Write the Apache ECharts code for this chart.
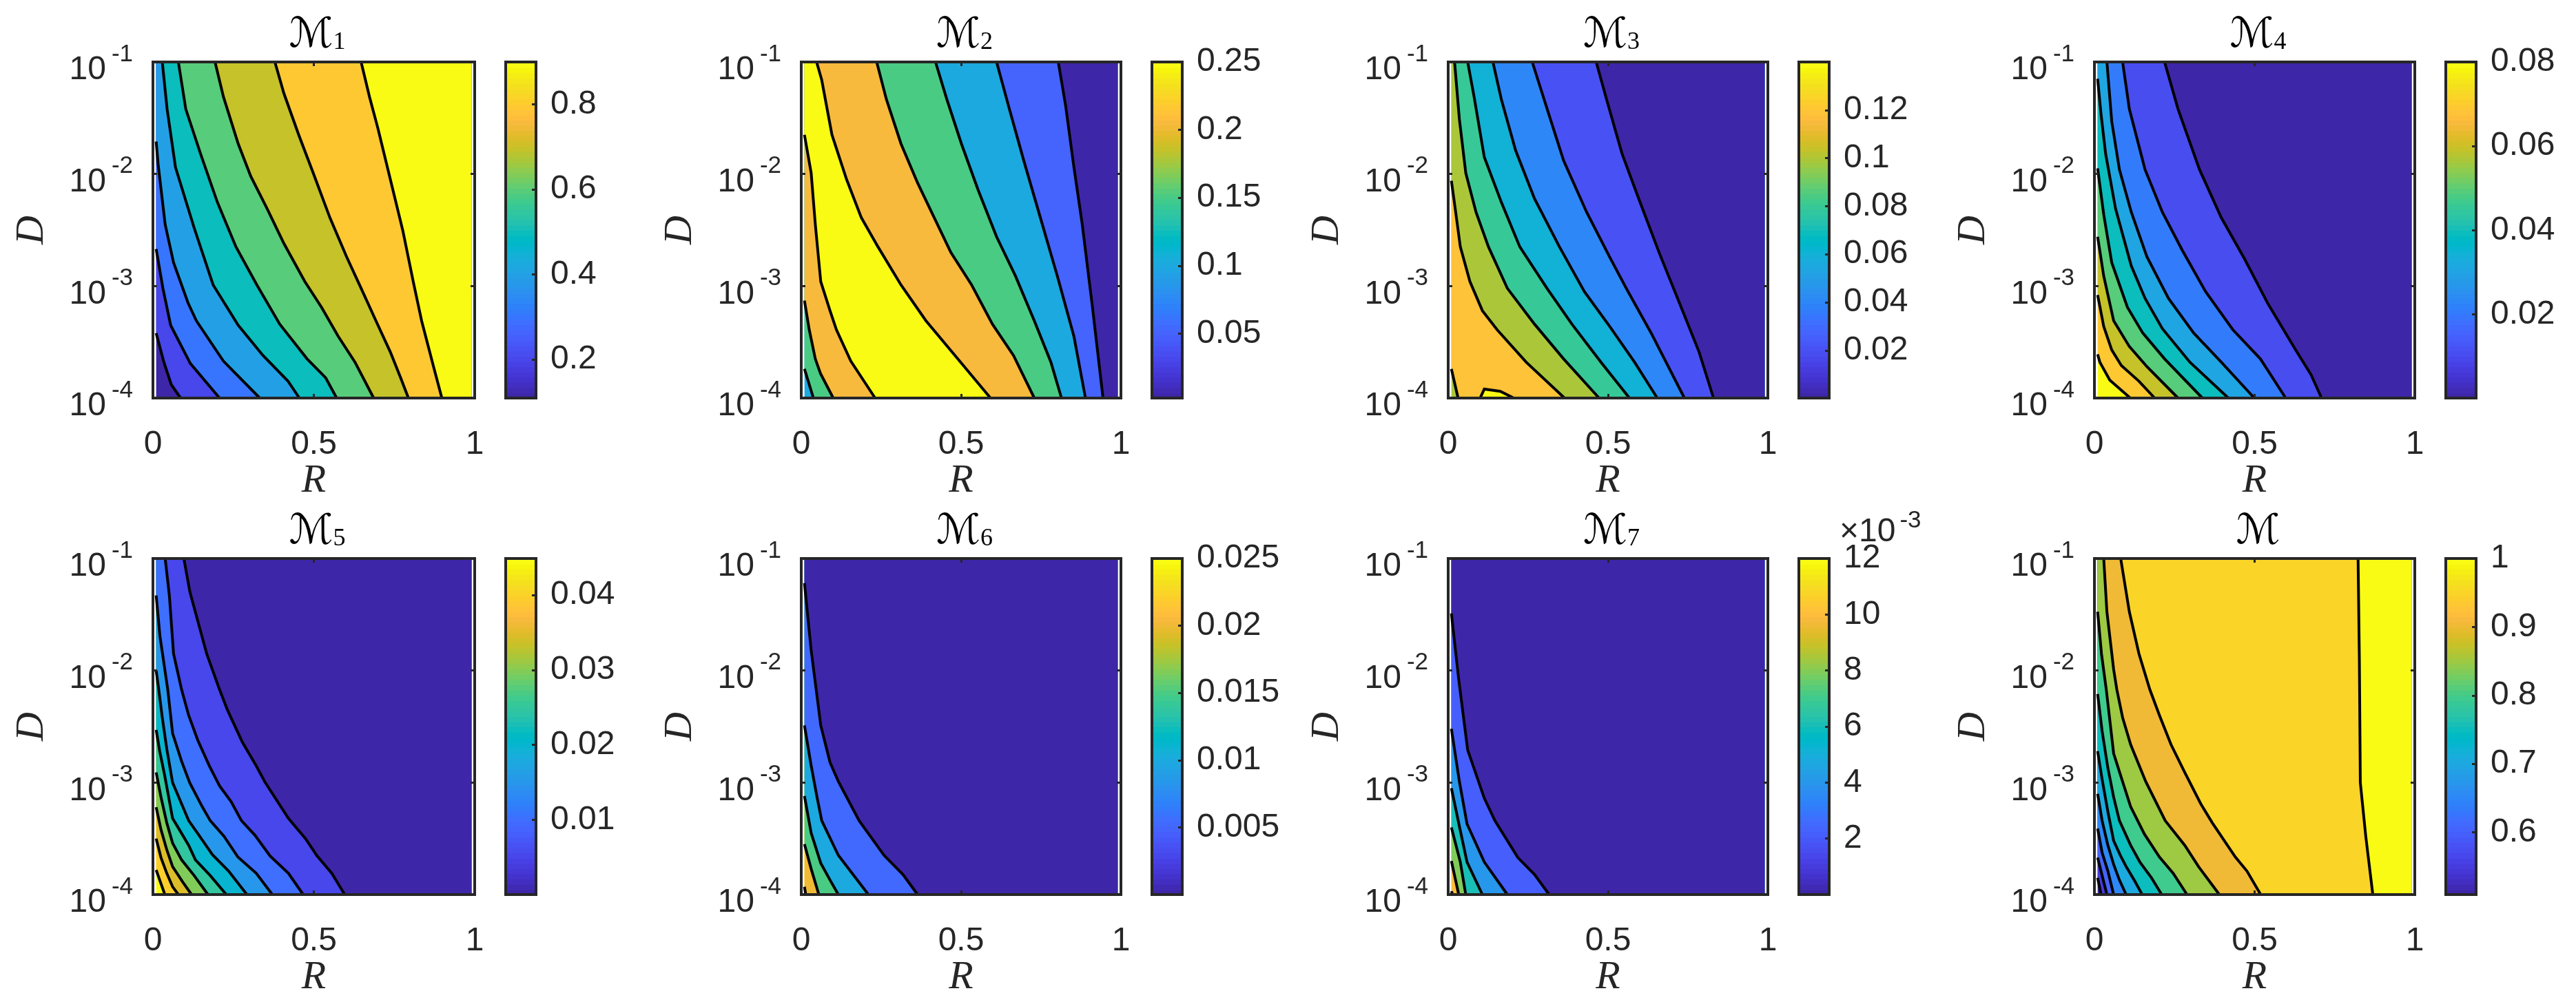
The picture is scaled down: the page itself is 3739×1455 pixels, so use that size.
<!DOCTYPE html>
<html>
<head>
<meta charset="utf-8">
<title>Contour panels</title>
<script src="https://cdn.jsdelivr.net/npm/echarts@6/dist/echarts.min.js"></script>
<style>
  html, body { margin: 0; padding: 0; background: #fff; }
  #chart { width: 3739px; height: 1455px; }
</style>
</head>
<body>
<div id="chart"></div>
<script>
// contours are lists of [R, log10(D)], ordered left to right
const m1Contours = [
  [[.01,-3.42],[.034,-3.68],[.057,-3.88],[.086,-4]],
  [[.01,-2.67],[.031,-3.02],[.055,-3.35],[.116,-3.69],[.207,-4]],
  [[.01,-1.71],[.016,-1.91],[.038,-2.45],[.064,-2.79],[.109,-3.15],[.135,-3.31],[.219,-3.67],[.332,-4]],
  [[.029,-1],[.044,-1.42],[.07,-1.94],[.128,-2.48],[.187,-2.99],[.265,-3.35],[.342,-3.62],[.42,-3.85],[.455,-4]],
  [[.079,-1],[.102,-1.42],[.148,-1.82],[.2,-2.25],[.258,-2.65],[.323,-2.99],[.394,-3.34],[.479,-3.65],[.537,-3.82],[.571,-4]],
  [[.193,-1],[.219,-1.31],[.265,-1.73],[.304,-2.02],[.355,-2.31],[.407,-2.62],[.472,-2.96],[.524,-3.19],[.576,-3.45],[.628,-3.68],[.686,-4]],
  [[.379,-1],[.407,-1.28],[.453,-1.65],[.498,-1.99],[.55,-2.39],[.602,-2.74],[.647,-3.02],[.693,-3.31],[.738,-3.59],[.77,-3.82],[.794,-4]],
  [[.647,-1],[.673,-1.31],[.699,-1.59],[.738,-2.05],[.777,-2.51],[.809,-2.96],[.835,-3.31],[.874,-3.74],[.898,-4]]
]
const m2Contours = [
  [[.01,-3.74],[.038,-4]],
  [[.01,-3.13],[.025,-3.39],[.044,-3.65],[.06,-3.78],[.1,-4]],
  [[.01,-1.65],[.031,-1.99],[.044,-2.45],[.061,-2.96],[.09,-3.22],[.11,-3.39],[.155,-3.67],[.231,-4]],
  [[.048,-1],[.064,-1.16],[.096,-1.65],[.142,-2.05],[.188,-2.39],[.24,-2.65],[.312,-2.99],[.39,-3.31],[.481,-3.62],[.592,-4]],
  [[.236,-1],[.266,-1.33],[.312,-1.73],[.364,-2.08],[.416,-2.39],[.468,-2.7],[.533,-2.99],[.598,-3.34],[.664,-3.62],[.729,-4]],
  [[.42,-1],[.455,-1.33],[.501,-1.73],[.553,-2.14],[.611,-2.56],[.67,-2.91],[.729,-3.31],[.781,-3.68],[.814,-4]],
  [[.611,-1],[.651,-1.42],[.696,-1.88],[.748,-2.39],[.801,-2.91],[.853,-3.45],[.889,-4]],
  [[.804,-1],[.827,-1.39],[.853,-1.94],[.879,-2.45],[.911,-3.19],[.944,-4]]
]
const m3Contours = [
  [[.01,-3.74],[.031,-4]],
  [[.01,-2.06],[.022,-2.31],[.038,-2.65],[.068,-2.96],[.107,-3.22],[.153,-3.39],[.244,-3.68],[.364,-4]],
  [[.02,-1],[.035,-1.51],[.055,-1.99],[.087,-2.34],[.126,-2.65],[.185,-3.02],[.27,-3.34],[.361,-3.65],[.472,-4]],
  [[.061,-1],[.081,-1.31],[.113,-1.85],[.166,-2.25],[.224,-2.65],[.309,-3.02],[.387,-3.34],[.478,-3.68],[.567,-4]],
  [[.14,-1],[.166,-1.33],[.211,-1.79],[.27,-2.22],[.348,-2.65],[.426,-3.05],[.505,-3.36],[.583,-3.68],[.654,-4]],
  [[.263,-1],[.303,-1.36],[.361,-1.88],[.433,-2.34],[.505,-2.74],[.557,-3.02],[.635,-3.42],[.739,-4]],
  [[.463,-1],[.498,-1.36],[.544,-1.82],[.596,-2.22],[.661,-2.71],[.733,-3.22],[.785,-3.59],[.83,-4]]
]
const m3Island = [[.1,-4],[.113,-3.92],[.163,-3.94],[.205,-4]]
const m4Contours = [
  [[.01,-3.61],[.017,-3.68],[.048,-3.84],[.112,-4]],
  [[.01,-3.08],[.029,-3.36],[.054,-3.57],[.084,-3.71],[.139,-3.85],[.188,-4]],
  [[.01,-2.56],[.029,-2.91],[.06,-3.31],[.109,-3.54],[.164,-3.72],[.261,-4]],
  [[.01,-1.95],[.029,-2.36],[.054,-2.79],[.103,-3.19],[.151,-3.42],[.219,-3.65],[.337,-4]],
  [[.01,-1.15],[.02,-1.45],[.035,-1.82],[.066,-2.31],[.115,-2.82],[.158,-3.11],[.212,-3.38],[.298,-3.68],[.418,-4]],
  [[.039,-1],[.054,-1.53],[.078,-1.96],[.115,-2.34],[.164,-2.74],[.231,-3.11],[.31,-3.42],[.396,-3.68],[.499,-4]],
  [[.088,-1],[.109,-1.42],[.158,-1.96],[.212,-2.34],[.274,-2.68],[.347,-3.05],[.432,-3.39],[.518,-3.65],[.597,-4]],
  [[.219,-1],[.261,-1.42],[.328,-1.96],[.396,-2.39],[.469,-2.76],[.542,-3.16],[.628,-3.57],[.676,-3.79],[.709,-4]]
]
const m5Contours = [
  [[.01,-3.78],[.021,-3.87],[.037,-4]],
  [[.01,-3.5],[.025,-3.67],[.043,-3.81],[.061,-3.93],[.079,-4]],
  [[.01,-3.22],[.025,-3.42],[.043,-3.6],[.061,-3.75],[.093,-3.89],[.12,-4]],
  [[.01,-2.91],[.025,-3.13],[.043,-3.36],[.061,-3.54],[.089,-3.69],[.128,-3.83],[.171,-4]],
  [[.01,-2.53],[.021,-2.72],[.036,-2.93],[.061,-3.32],[.082,-3.42],[.111,-3.56],[.132,-3.69],[.178,-3.83],[.228,-4]],
  [[.01,-2],[.018,-2.17],[.029,-2.42],[.043,-2.7],[.061,-3],[.086,-3.17],[.111,-3.34],[.143,-3.47],[.185,-3.645],[.235,-3.79],[.292,-4]],
  [[.01,-1.33],[.022,-1.7],[.046,-2.17],[.061,-2.56],[.089,-2.81],[.114,-3],[.153,-3.215],[.178,-3.34],[.221,-3.48],[.264,-3.665],[.321,-3.81],[.371,-4]],
  [[.038,-1],[.051,-1.33],[.064,-1.85],[.089,-2.17],[.111,-2.4],[.139,-2.62],[.175,-2.85],[.207,-3.03],[.243,-3.17],[.275,-3.34],[.317,-3.47],[.364,-3.655],[.421,-3.81],[.467,-4]],
  [[.096,-1],[.115,-1.3],[.167,-1.85],[.207,-2.17],[.232,-2.355],[.278,-2.64],[.321,-2.85],[.349,-3],[.421,-3.32],[.474,-3.5],[.51,-3.655],[.556,-3.81],[.596,-4]]
]
const m6Contours = [
  [[.01,-3.93],[.014,-4]],
  [[.01,-3.55],[.031,-3.77],[.055,-4]],
  [[.01,-3.12],[.031,-3.45],[.061,-3.72],[.09,-3.87],[.116,-4]],
  [[.01,-2.49],[.031,-2.85],[.05,-3.14],[.064,-3.34],[.116,-3.65],[.21,-4]],
  [[.01,-1.22],[.031,-1.82],[.061,-2.49],[.09,-2.82],[.116,-2.99],[.181,-3.34],[.259,-3.65],[.318,-3.82],[.364,-4]]
]
const m7Contours = [
  [[.01,-3.97],[.014,-4]],
  [[.01,-3.7],[.033,-4]],
  [[.01,-3.4],[.038,-3.71],[.055,-4]],
  [[.01,-3.05],[.035,-3.39],[.059,-3.71],[.107,-4]],
  [[.01,-2.52],[.035,-2.99],[.059,-3.37],[.113,-3.71],[.185,-4]],
  [[.01,-1.49],[.033,-2.08],[.061,-2.71],[.113,-3.14],[.146,-3.34],[.218,-3.67],[.27,-3.82],[.316,-4]]
]
const m8Contours = [
  [[.01,-3.85],[.021,-4]],
  [[.01,-3.67],[.024,-3.83],[.039,-4]],
  [[.01,-3.41],[.024,-3.625],[.042,-3.79],[.06,-4]],
  [[.01,-3.1],[.024,-3.34],[.042,-3.56],[.06,-3.73],[.078,-3.87],[.099,-4]],
  [[.01,-2.72],[.024,-2.97],[.042,-3.26],[.06,-3.52],[.081,-3.65],[.099,-3.75],[.124,-3.87],[.149,-4]],
  [[.01,-2.21],[.024,-2.54],[.042,-2.87],[.06,-3.13],[.078,-3.34],[.113,-3.56],[.142,-3.71],[.178,-3.85],[.21,-4]],
  [[.01,-1.475],[.022,-1.85],[.037,-2.17],[.06,-2.74],[.081,-2.93],[.113,-3.215],[.156,-3.46],[.203,-3.665],[.246,-3.81],[.289,-4]],
  [[.029,-1],[.039,-1.475],[.06,-1.99],[.07,-2.17],[.088,-2.42],[.113,-2.66],[.16,-2.99],[.221,-3.34],[.282,-3.56],[.325,-3.75],[.39,-4]],
  [[.082,-1],[.109,-1.475],[.139,-1.85],[.173,-2.17],[.203,-2.4],[.239,-2.66],[.282,-2.91],[.332,-3.19],[.368,-3.36],[.44,-3.665],[.476,-3.79],[.519,-4]],
  [[.823,-1],[.827,-1.9],[.83,-3],[.847,-3.48],[.869,-4]]
]

// value of each filled band, left to right (one more than the contours)
const m1Bands = [.11, .2, .3, .4, .5, .6, .7, .8, .9]
const m2Bands = [.1, .15, .205, .25, .205, .15, .1, .05, .0026]
const m3Bands = [.1, .12, .1, .08, .06, .04, .02, .0002]
const m4Bands = [.08, .07, .06, .05, .04, .03, .02, .01, .0001]
const m5Bands = [.0449, .04, .035, .03, .025, .02, .015, .01, .005, 0]
const m6Bands = [.025, .0203, .015, .01, .005, 0]
const m7Bands = [12, 10, 8, 6, 4, 2, 0]
const m8Bands = [.509, .55, .6, .65, .7, .75, .8, .85, .905, .95, 1]

// colorbar ranges and ticks
const m1Range = [.109, .9]
const m2Range = [.0026, .25]
const m3Range = [.0002, .14]
const m4Range = [.0001, .08]
const m5Range = [0, .0449]
const m6Range = [0, .025]
const m7Range = [0, 12]
const m8Range = [.509, 1]
const m1Ticks = [.2, .4, .6, .8]
const m2Ticks = [.05, .1, .15, .2, .25]
const m3Ticks = [.02, .04, .06, .08, .1, .12]
const m4Ticks = [.02, .04, .06, .08]
const m5Ticks = [.01, .02, .03, .04]
const m6Ticks = [.005, .01, .015, .02, .025]
const m7Ticks = [2, 4, 6, 8, 10, 12]
const m8Ticks = [.6, .7, .8, .9, 1]

const titleSubs = ['1', '2', '3', '4', '5', '6', '7', '']
const parula = [
  [.2422,.1504,.6603],[.2504,.165,.7076],[.2578,.1818,.7511],[.2647,.1978,.7952],[.2706,.2147,.8364],[.2751,.2342,.871],[.2783,.2559,.8991],[.2803,.2782,.9221],
  [.2813,.3006,.9414],[.281,.3228,.9579],[.2795,.3447,.9717],[.276,.3667,.9829],[.2699,.3892,.9906],[.2602,.4123,.9952],[.244,.4358,.9988],[.2206,.4603,.9973],
  [.1963,.4847,.9892],[.1834,.5074,.9798],[.1786,.5289,.9682],[.1764,.5499,.952],[.1687,.5703,.9359],[.154,.5902,.9218],[.146,.6091,.9079],[.138,.6276,.8973],
  [.1248,.6459,.8883],[.1113,.6635,.8763],[.0952,.6798,.8598],[.0689,.6948,.8394],[.0297,.7082,.8163],[.0036,.7203,.7917],[.0067,.7312,.766],[.0433,.7411,.7394],
  [.0964,.75,.712],[.1408,.7584,.6842],[.1717,.767,.6554],[.1938,.7758,.6251],[.2161,.7843,.5923],[.247,.7918,.5567],[.2906,.7973,.5188],[.3406,.8008,.4789],
  [.3909,.8029,.4354],[.4456,.8024,.3909],[.5044,.7993,.348],[.5616,.7942,.3045],[.6174,.7876,.2612],[.672,.7793,.2227],[.7242,.7698,.191],[.7738,.7598,.1646],
  [.8203,.7498,.1535],[.8634,.7406,.1596],[.9035,.733,.1774],[.9393,.7288,.21],[.9728,.7298,.2394],[.9956,.7434,.2371],[.997,.7659,.2199],[.9952,.7861,.199],
  [.9892,.8086,.1706],[.9786,.8307,.1521],[.9676,.853,.1387],[.961,.8779,.1152],[.9597,.9035,.1001],[.9628,.9296,.08],[.9689,.955,.056],[.9769,.9839,.0805]
]

const panels = [
  { contours: m1Contours, bands: m1Bands, range: m1Range, ticks: m1Ticks },
  { contours: m2Contours, bands: m2Bands, range: m2Range, ticks: m2Ticks },
  { contours: m3Contours, bands: m3Bands, range: m3Range, ticks: m3Ticks, island: m3Island, islandValue: .14 },
  { contours: m4Contours, bands: m4Bands, range: m4Range, ticks: m4Ticks },
  { contours: m5Contours, bands: m5Bands, range: m5Range, ticks: m5Ticks },
  { contours: m6Contours, bands: m6Bands, range: m6Range, ticks: m6Ticks },
  { contours: m7Contours, bands: m7Bands, range: m7Range, ticks: m7Ticks },
  { contours: m8Contours, bands: m8Bands, range: m8Range, ticks: m8Ticks }
]

// layout
const plotLefts = [222, 1163, 2102, 3040]
const plotWidths = [467, 464, 464, 465]
const barLefts = [734, 1672, 2611, 3550]
const barWidth = 44
const rowTops = [90, 811]
const plotHeight = 488
const ink = '#262626'
const sansFont = '"Liberation Sans", Arial, sans-serif'
const serifFont = '"Liberation Serif", serif'
const tickFont = 48

const rMin = .01, rMax = .99, eTop = -1, eBottom = -4

function toHex(rgb) {
  return '#' + rgb.map(v => Math.round(v * 255).toString(16).padStart(2, '0')).join('')
}

function colorOf(value, range) {
  let t = (value - range[0]) / (range[1] - range[0])
  let i = Math.round(Math.min(Math.max(t, 0), 1) * (parula.length - 1))
  return toHex(parula[i])
}

function frameAxis(extra) {
  return Object.assign({
    type: 'value',
    z: 10,
    silent: true,
    splitLine: { show: false },
    axisLine: { show: true, onZero: false, lineStyle: { color: ink, width: 4, cap: 'square' } },
    axisTick: { show: false },
    axisLabel: { show: false }
  }, extra)
}

const plotTick = { show: true, inside: true, length: 6, lineStyle: { color: ink, width: 3 } }

const grid = [], xAxis = [], yAxis = [], series = [], title = []

panels.forEach((p, n) => {
  let col = n % 4
  let top = rowTops[Math.floor(n / 4)]
  let left = plotLefts[col]
  let width = plotWidths[col]

  // contour plot
  let g = grid.length
  grid.push({ left: left, top: top, width: width, height: plotHeight })
  let xBottom = xAxis.length
  xAxis.push(frameAxis({
    gridIndex: g, position: 'bottom', min: 0, max: 1, interval: .5,
    axisTick: plotTick,
    axisLabel: {
      show: true, color: ink, fontFamily: sansFont, fontSize: tickFont, margin: 44,
      formatter: v => String(v)
    },
    name: 'R', nameLocation: 'middle', nameGap: 92, nameMoveOverlap: false,
    nameTextStyle: { color: ink, fontFamily: serifFont, fontStyle: 'italic', fontSize: 58 }
  }))
  xAxis.push(frameAxis({ gridIndex: g, position: 'top', min: 0, max: 1, interval: .5, axisTick: plotTick }))
  let yLeft = yAxis.length
  yAxis.push(frameAxis({
    type: 'log', logBase: 10, gridIndex: g, position: 'left', min: 1e-4, max: 1e-1,
    axisTick: plotTick,
    axisLabel: {
      show: true, margin: 29, fontSize: tickFont,
      formatter: v => '{base|10}{sup|' + Math.round(Math.log10(v)) + '}',
      rich: {
        base: { color: ink, fontFamily: sansFont, fontSize: tickFont, padding: [24, 0, 0, 0] },
        sup: { color: ink, fontFamily: sansFont, fontSize: 35, padding: [0, 0, 22, 8] }
      }
    },
    name: 'D', nameLocation: 'middle', nameGap: 146, nameMoveOverlap: false,
    nameTextStyle: { color: ink, fontFamily: serifFont, fontStyle: 'italic', fontSize: 58 }
  }))
  yAxis.push(frameAxis({ type: 'log', logBase: 10, gridIndex: g, position: 'right', min: 1e-4, max: 1e-1, axisTick: plotTick }))

  // painted left to right: every contour fills everything on its right
  let layers = [{ fill: p.bands[0] }]
  p.contours.forEach((c, i) => layers.push({ line: c, fill: p.bands[i + 1] }))
  if (p.island) layers.push({ line: p.island, fill: p.islandValue, closed: true })

  series.push({
    type: 'custom',
    coordinateSystem: 'cartesian2d',
    xAxisIndex: xBottom,
    yAxisIndex: yLeft,
    silent: true,
    animation: false,
    clip: false,
    z: 2,
    data: layers.map((_, i) => [.5, .01, i]),
    renderItem: (params, api) => {
      let layer = layers[params.dataIndex]
      let pt = (r, e) => api.coord([r, Math.pow(10, e)])
      let color = colorOf(layer.fill, p.range)
      if (!layer.line) {
        return {
          type: 'polygon',
          shape: { points: [pt(rMin, eTop), pt(rMax, eTop), pt(rMax, eBottom), pt(rMin, eBottom)] },
          style: { fill: color }
        }
      }
      let path = layer.line.map(q => pt(q[0], q[1]))
      let outline = path.slice()
      if (!layer.closed) {
        outline.push(pt(rMax, eBottom), pt(rMax, eTop))
        if (layer.line[0][1] < eTop) outline.push(pt(rMin, eTop))
      }
      return {
        type: 'group',
        children: [
          { type: 'polygon', shape: { points: outline }, style: { fill: color } },
          { type: 'polyline', shape: { points: path }, style: { fill: null, stroke: '#000', lineWidth: 4 } }
        ]
      }
    }
  })

  // colorbar
  let b = grid.length
  grid.push({ left: barLefts[col], top: top, width: barWidth, height: plotHeight })
  let barX = xAxis.length
  xAxis.push(frameAxis({ gridIndex: b, position: 'bottom', min: 0, max: 1 }))
  xAxis.push(frameAxis({ gridIndex: b, position: 'top', min: 0, max: 1 }))
  let barY = yAxis.length
  yAxis.push(frameAxis({
    gridIndex: b, position: 'right', min: p.range[0], max: p.range[1],
    axisTick: { show: true, inside: true, length: 6, customValues: p.ticks, lineStyle: { color: ink, width: 3 } },
    axisLabel: {
      show: true, color: ink, fontFamily: sansFont, fontSize: tickFont, margin: 21,
      customValues: p.ticks, hideOverlap: false, formatter: v => String(v)
    }
  }))
  yAxis.push(frameAxis({ gridIndex: b, position: 'left', min: p.range[0], max: p.range[1] }))

  let span = p.range[1] - p.range[0]
  series.push({
    type: 'custom',
    coordinateSystem: 'cartesian2d',
    xAxisIndex: barX,
    yAxisIndex: barY,
    silent: true,
    animation: false,
    clip: true,
    z: 2,
    data: parula.map((_, i) => [.5, p.range[0] + span * (i + .5) / parula.length, i]),
    renderItem: (params, api) => {
      let i = params.dataIndex
      let a = api.coord([0, p.range[0] + span * i / parula.length])
      let c = api.coord([1, p.range[0] + span * (i + 1) / parula.length])
      return {
        type: 'rect',
        shape: { x: a[0], y: c[1], width: c[0] - a[0], height: a[1] - c[1] + 1 },
        style: { fill: toHex(parula[i]) }
      }
    }
  })

  // panel title
  title.push({
    text: '{m|ℳ}' + (titleSubs[n] ? '{k|' + titleSubs[n] + '}' : ''),
    left: left + width / 2,
    top: top - 73,
    textAlign: 'center',
    textStyle: {
      rich: {
        m: { color: '#000', fontFamily: '"DejaVu Sans", serif', fontSize: 60, fontWeight: 'normal' },
        k: { color: '#000', fontFamily: serifFont, fontSize: 36, fontWeight: 'normal', padding: [20, 0, 0, 0] }
      }
    }
  })
})

// exponent over the seventh colorbar
title.push({
  text: '{base|×10}{sup|-3}',
  left: 2665,
  top: 732,
  textStyle: {
    rich: {
      base: { color: ink, fontFamily: sansFont, fontSize: 48, fontWeight: 'normal', padding: [12, 0, 0, 0] },
      sup: { color: ink, fontFamily: sansFont, fontSize: 35, fontWeight: 'normal', padding: [0, 0, 22, 6] }
    }
  }
})

const chart = echarts.init(document.getElementById('chart'))
chart.setOption({
  backgroundColor: '#fff',
  animation: false,
  title: title,
  grid: grid,
  xAxis: xAxis,
  yAxis: yAxis,
  series: series
})
</script>
</body>
</html>
